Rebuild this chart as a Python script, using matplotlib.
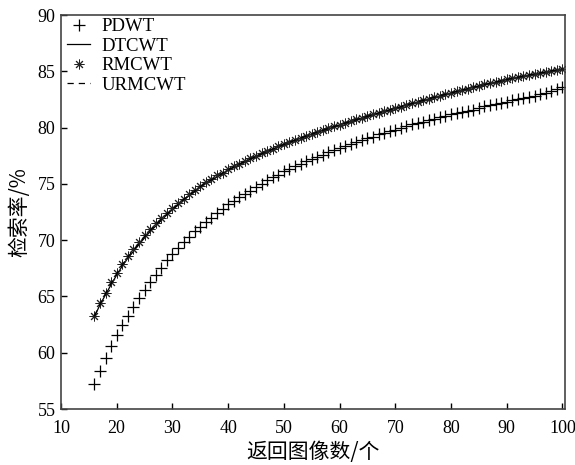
import matplotlib
matplotlib.use("Agg")
import matplotlib.pyplot as plt

# numero de imagens retornadas (eixo x)
retorno = list(range(16, 101))

# taxa de recuperacao (%)
pdwt = [57.2, 58.4, 59.5, 60.6, 61.6, 62.5, 63.3, 64.1, 64.9, 65.6,
        66.3, 66.9, 67.5, 68.2, 68.8, 69.3, 69.8, 70.3, 70.8, 71.2,
        71.6, 72.0, 72.4, 72.8, 73.2, 73.5, 73.8, 74.1, 74.4, 74.7,
        75.0, 75.3, 75.6, 75.8, 76.1, 76.3, 76.6, 76.8, 77.0, 77.2,
        77.4, 77.6, 77.8, 78.0, 78.2, 78.4, 78.5, 78.7, 78.9, 79.1,
        79.2, 79.4, 79.5, 79.7, 79.8, 80.0, 80.1, 80.3, 80.4, 80.5,
        80.7, 80.8, 80.9, 81.0, 81.2, 81.3, 81.4, 81.5, 81.6, 81.7,
        81.9, 82.0, 82.1, 82.2, 82.3, 82.45, 82.55, 82.65, 82.75, 82.85,
        83.0, 83.1, 83.25, 83.4, 83.6]

dtcwt = [63.2, 64.25, 65.15, 66.05, 66.9, 67.7, 68.4, 69.0, 69.6, 70.2,
         70.75, 71.25, 71.75, 72.25, 72.7, 73.1, 73.55, 73.95, 74.3, 74.7,
         75.05, 75.3, 75.6, 75.9, 76.2, 76.45, 76.7, 76.95, 77.18, 77.41,
         77.63, 77.85, 78.06, 78.27, 78.47, 78.67, 78.86, 79.04, 79.22, 79.4,
         79.57, 79.74, 79.9, 80.06, 80.22, 80.38, 80.53, 80.68, 80.83, 80.98,
         81.13, 81.28, 81.42, 81.56, 81.7, 81.84, 81.98, 82.12, 82.26, 82.4,
         82.54, 82.67, 82.8, 82.93, 83.06, 83.19, 83.32, 83.44, 83.56, 83.68,
         83.8, 83.92, 84.03, 84.14, 84.25, 84.36, 84.46, 84.56, 84.66, 84.75,
         84.84, 84.93, 85.02, 85.11, 85.2]

rmcwt = [63.3, 64.4, 65.35, 66.25, 67.1, 67.9, 68.6, 69.25, 69.85, 70.45,
         71.0, 71.5, 72.0, 72.45, 72.9, 73.3, 73.7, 74.1, 74.45, 74.8,
         75.15, 75.45, 75.75, 76.0, 76.3, 76.55, 76.8, 77.05, 77.28, 77.5,
         77.72, 77.93, 78.13, 78.33, 78.53, 78.72, 78.91, 79.09, 79.27, 79.45,
         79.62, 79.79, 79.95, 80.11, 80.27, 80.42, 80.57, 80.72, 80.87, 81.02,
         81.17, 81.31, 81.45, 81.59, 81.73, 81.87, 82.01, 82.15, 82.29, 82.43,
         82.57, 82.7, 82.83, 82.96, 83.09, 83.22, 83.35, 83.47, 83.59, 83.71,
         83.83, 83.95, 84.06, 84.17, 84.28, 84.39, 84.49, 84.59, 84.69, 84.78,
         84.87, 84.96, 85.05, 85.14, 85.23]

urmcwt = [63.25, 64.3, 65.25, 66.15, 67.0, 67.8, 68.5, 69.1, 69.7, 70.3,
          70.85, 71.35, 71.85, 72.3, 72.75, 73.15, 73.6, 74.0, 74.35, 74.75,
          75.1, 75.35, 75.65, 75.95, 76.25, 76.5, 76.75, 77.0, 77.22, 77.45,
          77.67, 77.88, 78.09, 78.3, 78.5, 78.7, 78.88, 79.06, 79.24, 79.42,
          79.59, 79.76, 79.92, 80.08, 80.24, 80.4, 80.55, 80.7, 80.85, 81.0,
          81.15, 81.3, 81.44, 81.58, 81.72, 81.86, 82.0, 82.14, 82.28, 82.42,
          82.56, 82.69, 82.82, 82.95, 83.08, 83.21, 83.34, 83.46, 83.58, 83.7,
          83.82, 83.94, 84.05, 84.16, 84.27, 84.38, 84.48, 84.58, 84.68, 84.77,
          84.86, 84.95, 85.04, 85.13, 85.22]

plt.rcParams['font.family'] = ['Liberation Serif', 'Noto Sans CJK SC']

fig = plt.figure(figsize=(5.75, 4.65), dpi=100)
ax = fig.add_axes([0.106, 0.1204, 0.877, 0.8473])

ax.plot(retorno, pdwt, linestyle='none', marker='+', markersize=8,
        markeredgewidth=0.9, color='black', label='PDWT')
ax.plot(retorno, dtcwt, linestyle='-', linewidth=0.9, color='black', label='DTCWT')
ax.plot(retorno, rmcwt, linestyle='none', marker=(8, 2, 0), markersize=7,
        markeredgewidth=0.7, color='#222222', label='RMCWT')
ax.plot(retorno, urmcwt, linestyle=(0, (5, 4)), linewidth=0.9, color='black', label='URMCWT')

ax.set_xlim(10, 100.5)
ax.set_ylim(55, 90)
ax.set_xticks(range(10, 101, 10))
ax.set_yticks(range(55, 91, 5))
ax.tick_params(direction='in', length=4, width=1, labelsize=13, pad=4)
ax.tick_params(axis='x', pad=8)
for s in ax.spines.values():
    s.set_color('#444444')
    s.set_linewidth(1.2)

ax.set_xlabel('返回图像数/个', fontsize=15, family=['Noto Sans CJK SC'], labelpad=3)
ax.set_ylabel('检索率/%', fontsize=15, family=['Noto Sans CJK SC'], labelpad=5)

ax.legend(loc='upper left', frameon=False, fontsize=13.5, handlelength=1.25,
          handletextpad=0.6, labelspacing=0.12, borderaxespad=0.0,
          borderpad=0.05, bbox_to_anchor=(0.01, 0.994))

fig.savefig('out.png', dpi=100)
